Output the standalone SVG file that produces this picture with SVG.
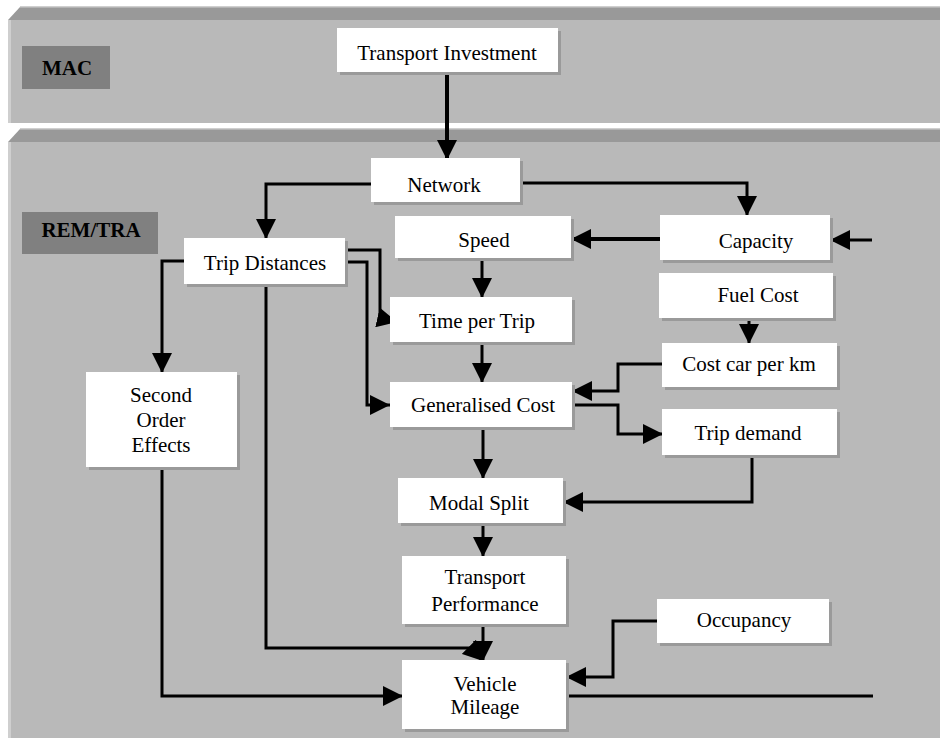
<svg xmlns="http://www.w3.org/2000/svg" width="940" height="738" viewBox="0 0 940 738">
<style>
.body{fill:#b9b9b9}
.bevel{fill:#999999}
.edge{fill:#cfcfcf}
.box{fill:#ffffff}
.sh{fill:#9a9a9a}
.lbl{fill:#808080}
text{font-family:"Liberation Serif","Times New Roman",serif;font-size:21px;fill:#000;text-anchor:middle}
.b{font-weight:bold}
.c{fill:none;stroke:#000;stroke-width:3}
.t{stroke-width:4}
.a{marker-end:url(#ah)}
</style>
<defs>
<marker id="ah" markerUnits="userSpaceOnUse" markerWidth="20" markerHeight="20" viewBox="0 0 20 20" refX="20" refY="10" orient="auto">
<path d="M0,0 L20,10 L0,20 Z" fill="#000"/>
</marker>
</defs>
<rect width="940" height="738" fill="#ffffff"/>
<g id="panel-mac">
<polygon class="bevel" points="8,20 20,7 940,7 940,20"/>
<rect class="edge" x="20" y="6" width="920" height="1.5"/>
<rect class="body" x="8" y="20" width="932" height="103"/>
<rect class="edge" x="8" y="20" width="3" height="103"/>
</g>
<g id="panel-rem">
<polygon class="bevel" points="8,142 20,129 940,129 940,142"/>
<rect class="edge" x="20" y="128" width="920" height="1.5"/>
<rect class="body" x="8" y="142" width="932" height="596"/>
<rect class="edge" x="8" y="142" width="3" height="596"/>
</g>
<g id="label-mac"><rect class="lbl" x="22" y="46" width="88" height="43"/><text class="b" x="67" y="75">MAC</text></g>
<g id="label-rem"><rect class="lbl" x="22" y="212" width="136" height="42"/><text class="b" x="91" y="237">REM/TRA</text></g>
<g id="connectors">
<path class="c t a" d="M447,72 V160"/>
<path class="c a" d="M371,184 H266 V239"/>
<path class="c a" d="M520,183 H747 V216"/>
<path class="c t a" d="M662,239 H571"/>
<path class="c a" d="M872,240 H830"/>
<path class="c a" d="M482,258 V298"/>
<path class="c a" d="M482,342 V383"/>
<path class="c a" d="M345,250 H380 V318 L397,322"/>
<path class="c a" d="M345,262 H367 V405 H390"/>
<path class="c a" d="M184,261 H162 V373"/>
<path class="c a" d="M266,284 V648 H470 L483,661"/>
<path class="c a" d="M162,467 V696 H403"/>
<path class="c" d="M566,696 H873"/>
<path class="c a" d="M657,621 H613 V677 H566"/>
<path class="c a" d="M749,318 V344"/>
<path class="c a" d="M662,364 H618 V391 H572"/>
<path class="c a" d="M572,405 H618 V434 H663"/>
<path class="c a" d="M483,427 V479"/>
<path class="c a" d="M752,455 V502 H563"/>
<path class="c a" d="M483,523 V557"/>
<path class="c a" d="M483,624 V661"/>
</g>
<g id="n-transport-investment"><rect class="sh" x="340" y="31" width="221" height="44"/><rect class="box" x="337" y="28" width="221" height="44"/><text x="447" y="60">Transport Investment</text></g>
<g id="n-network"><rect class="sh" x="374" y="161" width="149" height="44"/><rect class="box" x="371" y="158" width="149" height="44"/><text x="444" y="192">Network</text></g>
<g id="n-trip-distances"><rect class="sh" x="187" y="241" width="161" height="46"/><rect class="box" x="184" y="238" width="161" height="46"/><text x="265" y="270">Trip Distances</text></g>
<g id="n-speed"><rect class="sh" x="398" y="219" width="176" height="42"/><rect class="box" x="395" y="216" width="176" height="42"/><text x="484" y="247">Speed</text></g>
<g id="n-capacity"><rect class="sh" x="663" y="218" width="170" height="45"/><rect class="box" x="660" y="215" width="170" height="45"/><text x="756" y="248">Capacity</text></g>
<g id="n-fuel-cost"><rect class="sh" x="662" y="276" width="174" height="45"/><rect class="box" x="659" y="273" width="174" height="45"/><text x="758" y="302">Fuel Cost</text></g>
<g id="n-cost-car"><rect class="sh" x="665" y="346" width="175" height="44"/><rect class="box" x="662" y="343" width="175" height="44"/><text x="749" y="371">Cost car per km</text></g>
<g id="n-trip-demand"><rect class="sh" x="665" y="412" width="175" height="46"/><rect class="box" x="662" y="409" width="175" height="46"/><text x="748" y="440">Trip demand</text></g>
<g id="n-time-per-trip"><rect class="sh" x="393" y="300" width="182" height="45"/><rect class="box" x="390" y="297" width="182" height="45"/><text x="477" y="328">Time per Trip</text></g>
<g id="n-generalised-cost"><rect class="sh" x="393" y="385" width="182" height="45"/><rect class="box" x="390" y="382" width="182" height="45"/><text x="483" y="412">Generalised Cost</text></g>
<g id="n-modal-split"><rect class="sh" x="401" y="481" width="165" height="45"/><rect class="box" x="398" y="478" width="165" height="45"/><text x="479" y="510">Modal Split</text></g>
<g id="n-transport-performance"><rect class="sh" x="405" y="559" width="164" height="68"/><rect class="box" x="402" y="556" width="164" height="68"/><text x="485" y="584">Transport</text><text x="485" y="611">Performance</text></g>
<g id="n-vehicle-mileage"><rect class="sh" x="405" y="663" width="164" height="69"/><rect class="box" x="402" y="660" width="164" height="69"/><text x="485" y="691">Vehicle</text><text x="485" y="714">Mileage</text></g>
<g id="n-occupancy"><rect class="sh" x="660" y="602" width="172" height="44"/><rect class="box" x="657" y="599" width="172" height="44"/><text x="744" y="627">Occupancy</text></g>
<g id="n-second-order"><rect class="sh" x="89" y="375" width="151" height="95"/><rect class="box" x="86" y="372" width="151" height="95"/><text x="161" y="402">Second</text><text x="161" y="427">Order</text><text x="161" y="452">Effects</text></g>
</svg>
